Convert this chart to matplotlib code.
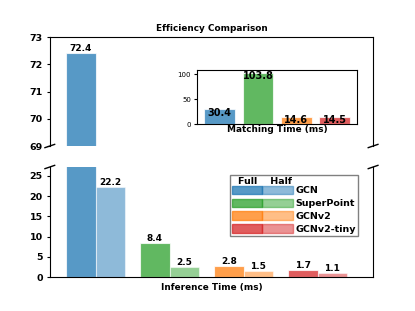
import matplotlib
matplotlib.use("Agg")
import matplotlib.pyplot as plt
import numpy as np
from matplotlib.patches import Patch
from matplotlib.legend_handler import HandlerTuple

models = ['GCN', 'SuperPoint', 'GCNv2', 'GCNv2-tiny']
full_time = [72.4, 8.4, 2.8, 1.7]
half_time = [22.2, 2.5, 1.5, 1.1]
match_time = [30.4, 103.8, 14.6, 14.5]
colors = ['tab:blue', 'tab:green', 'tab:orange', 'tab:red']

fig = plt.figure(figsize=(4.15, 3.11), dpi=100)
ax_top = fig.add_axes([0.12, 0.5305, 0.779, 0.3505])
ax_bot = fig.add_axes([0.12, 0.109, 0.779, 0.354])

x = np.arange(len(models))
w = 0.4
lims = {ax_top: (69, 73), ax_bot: (0, 27.2)}
for ax in (ax_top, ax_bot):
    lo, hi = lims[ax]
    ax.bar(x, full_time, w, color=colors, alpha=0.75, edgecolor='white', linewidth=0.8)
    ax.bar(x + w, half_time, w, color=colors, alpha=0.5, edgecolor='white', linewidth=0.8)
    for i in range(len(models)):
        if lo < full_time[i] < hi:
            ax.text(x[i], full_time[i], '%.1f' % full_time[i], ha='center', va='bottom',
                    fontsize=6.5, fontweight='bold')
        if lo < half_time[i] < hi:
            ax.text(x[i] + w, half_time[i], '%.1f' % half_time[i], ha='center', va='bottom',
                    fontsize=6.5, fontweight='bold')
    ax.set_xlim(-0.42, 3.95)
    ax.set_ylim(lo, hi)
    ax.tick_params(axis='y', labelsize=6.8, length=2.5, pad=2.5)

ax_top.set_yticks([69, 70, 71, 72, 73])
ax_bot.set_yticks([0, 5, 10, 15, 20, 25])
for ax in (ax_top, ax_bot):
    for lbl in ax.get_yticklabels():
        lbl.set_fontweight('bold')

ax_top.spines['bottom'].set_visible(False)
ax_bot.spines['top'].set_visible(False)
ax_top.set_xticks([])
ax_bot.set_xticks([])
ax_top.set_title('Efficiency Comparison', fontsize=6.4, fontweight='bold', pad=4)
ax_bot.set_xlabel('Inference Time (ms)', fontsize=6.4, fontweight='bold', labelpad=4)

# break marks
d = 0.015
kw = dict(transform=ax_top.transAxes, color='k', clip_on=False, linewidth=1)
ax_top.plot((-d, +d), (-d, +d), **kw)
ax_top.plot((1 - d, 1 + d), (-d, +d), **kw)
kw.update(transform=ax_bot.transAxes)
ax_bot.plot((-d, +d), (1 - d, 1 + d), **kw)
ax_bot.plot((1 - d, 1 + d), (1 - d, 1 + d), **kw)

# legend
handles = [(Patch(color=c, alpha=0.75), Patch(color=c, alpha=0.5)) for c in colors]
leg = ax_bot.legend(handles, models, handler_map={tuple: HandlerTuple(ndivide=None, pad=0)},
                    loc='upper right', bbox_to_anchor=(0.954, 0.927), borderaxespad=0,
                    fancybox=False, edgecolor='gray', framealpha=1,
                    handlelength=6.5, handleheight=1.0,
                    labelspacing=0.35, handletextpad=0.3, borderpad=0.2,
                    prop={'weight': 'bold', 'size': 6.8},
                    title='Full    Half', title_fontproperties={'weight': 'bold', 'size': 6.8})
leg._legend_box.align = 'left'
leg._legend_box.sep = 0
leg.get_title().set_position((6, 0))
leg.get_frame().set_linewidth(1)

# inset
ax_in = fig.add_axes([0.475, 0.601, 0.386, 0.174])
ax_in.bar(x, match_time, 0.8, color=colors, alpha=0.75, edgecolor='white', linewidth=0.8)
for i in range(len(models)):
    ax_in.text(x[i], match_time[i] + 3, '%.1f' % match_time[i], ha='center', va='top',
               fontsize=7, fontweight='bold')
ax_in.set_xticks([])
ax_in.set_yticks([0, 50, 100])
ax_in.tick_params(axis='y', labelsize=5, length=2.5, pad=2)
ax_in.set_xlabel('Matching Time (ms)', fontsize=6.4, fontweight='bold', labelpad=1)

fig.savefig('out.png', dpi=100)
